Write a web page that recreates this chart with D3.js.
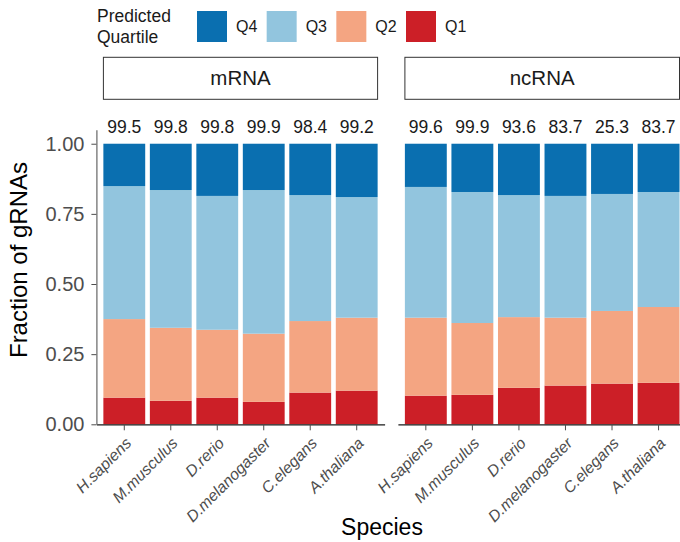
<!DOCTYPE html>
<html lang="en">
<head>
<meta charset="utf-8">
<title>Predicted quartile by species</title>
<script src="https://d3js.org/d3.v7.min.js"></script>
<style>
  body { margin: 0; background: #fff; }
  svg { font-family: "Liberation Sans", Arial, Helvetica, sans-serif; }
</style>
</head>
<body>
<script>
  // data
  const species = ["H.sapiens", "M.musculus", "D.rerio", "D.melanogaster", "C.elegans", "A.thaliana"];
  const facets = ["mRNA", "ncRNA"];
  const quartiles = ["Q1", "Q2", "Q3", "Q4"];
  const quartileColors = ["#cc1f27", "#f4a582", "#92c5de", "#0a6fb0"];

  const mrnaQ1 = [0.095, 0.084, 0.095, 0.080, 0.113, 0.120];
  const mrnaQ2 = [0.280, 0.260, 0.242, 0.243, 0.255, 0.260];
  const mrnaQ3 = [0.474, 0.491, 0.477, 0.512, 0.449, 0.430];
  const mrnaQ4 = [0.151, 0.165, 0.186, 0.165, 0.183, 0.190];
  const mrnaCoverage = [99.5, 99.8, 99.8, 99.9, 98.4, 99.2];

  const ncrnaQ1 = [0.102, 0.105, 0.130, 0.138, 0.145, 0.148];
  const ncrnaQ2 = [0.278, 0.256, 0.252, 0.242, 0.259, 0.270];
  const ncrnaQ3 = [0.466, 0.467, 0.435, 0.434, 0.417, 0.410];
  const ncrnaQ4 = [0.154, 0.172, 0.183, 0.186, 0.179, 0.172];
  const ncrnaCoverage = [99.6, 99.9, 93.6, 83.7, 25.3, 83.7];

  const yTicks = [0, 0.25, 0.5, 0.75, 1];

  const facetData = {
    mRNA: { q: [mrnaQ1, mrnaQ2, mrnaQ3, mrnaQ4], cov: mrnaCoverage },
    ncRNA: { q: [ncrnaQ1, ncrnaQ2, ncrnaQ3, ncrnaQ4], cov: ncrnaCoverage }
  };

  const w = 680;
  const h = 542;
  const panelTop = 129.7;
  const panelBottom = 424.3;
  const panelX = { mRNA: [96.4, 384.6], ncRNA: [397.9, 686.5] };

  const svg = d3.select("body")
    .append("svg")
    .attr("width", w)
    .attr("height", h);

  const yScale = d3.scaleLinear()
    .domain([0, 1.05])
    .range([panelBottom, panelTop]);

  const color = d3.scaleOrdinal()
    .domain(quartiles)
    .range(quartileColors);

  const stack = d3.stack().keys(quartiles);

  facets.forEach((f, fi) => {
    const rows = species.map((s, i) => {
      const row = { species: s, cov: facetData[f].cov[i] };
      quartiles.forEach((q, qi) => { row[q] = facetData[f].q[qi][i]; });
      return row;
    });
    const series = stack(rows);

    const xScale = d3.scaleBand()
      .domain(species)
      .range(panelX[f])
      .paddingInner(0.1)
      .paddingOuter(0.15);

    const g = svg.append("g").attr("class", "panel");

    g.selectAll("g.layer")
      .data(series)
      .enter()
      .append("g")
      .attr("class", "layer")
      .attr("fill", d => color(d.key))
      .selectAll("rect")
      .data(d => d)
      .enter()
      .append("rect")
      .attr("x", d => xScale(d.data.species))
      .attr("y", d => yScale(d[1]))
      .attr("width", xScale.bandwidth())
      .attr("height", d => yScale(d[0]) - yScale(d[1]));

    // coverage labels above bars
    g.selectAll("text.cov")
      .data(rows)
      .enter()
      .append("text")
      .attr("class", "cov")
      .attr("x", d => xScale(d.species) + xScale.bandwidth() / 2)
      .attr("y", yScale(1.039))
      .attr("text-anchor", "middle")
      .style("font-size", "17.5px")
      .style("fill", "#1a1a1a")
      .text(d => d.cov.toFixed(1));

    // x axis
    const xAxis = svg.append("g")
      .attr("transform", "translate(0," + panelBottom + ")")
      .call(d3.axisBottom(xScale).tickSize(6).tickSizeOuter(0));
    xAxis.select(".domain").attr("stroke", "#1a1a1a").attr("stroke-width", 1.2);
    xAxis.selectAll(".tick line").attr("stroke", "#4d4d4d");
    xAxis.selectAll(".tick text")
      .attr("x", 0)
      .attr("y", 0)
      .attr("dy", "0.71em")
      .attr("text-anchor", "end")
      .attr("transform", "translate(0,12) rotate(-45)")
      .style("font-size", "15.8px")
      .style("font-style", "italic")
      .style("font-family", "'Liberation Sans', Arial, sans-serif")
      .attr("fill", "#4d4d4d");

    // strip
    const [x0, x1] = panelX[f];
    svg.append("rect")
      .attr("x", x0 + 7)
      .attr("y", 57.3)
      .attr("width", x1 - x0 - 14)
      .attr("height", 42)
      .attr("fill", "#fff")
      .attr("stroke", "#333")
      .attr("stroke-width", 1);
    svg.append("text")
      .attr("x", (x0 + x1) / 2)
      .attr("y", 78.3)
      .attr("dy", "0.35em")
      .attr("text-anchor", "middle")
      .style("font-size", "20.5px")
      .style("fill", "#1a1a1a")
      .text(f);

    // y axis only on the first panel
    if (fi === 0) {
      const yAxis = svg.append("g")
        .attr("transform", "translate(" + x0 + ",0)")
        .call(d3.axisLeft(yScale)
          .tickValues(yTicks)
          .tickFormat(d3.format(".2f"))
          .tickSize(5)
          .tickSizeOuter(0)
          .tickPadding(7));
      yAxis.select(".domain").attr("stroke", "#666").attr("stroke-width", 1.2);
      yAxis.selectAll(".tick line").attr("stroke", "#4d4d4d");
      yAxis.selectAll(".tick text")
        .style("font-size", "20px")
        .style("font-family", "'Liberation Sans', Arial, sans-serif")
        .attr("fill", "#4d4d4d");
    }
  });

  // axis titles
  svg.append("text")
    .attr("x", 382)
    .attr("y", 535)
    .attr("text-anchor", "middle")
    .style("font-size", "23px")
    .text("Species");

  svg.append("text")
    .attr("transform", "translate(27,260) rotate(-90)")
    .attr("text-anchor", "middle")
    .style("font-size", "24px")
    .text("Fraction of gRNAs");

  // legend
  const legend = svg.append("g");
  legend.append("text")
    .attr("x", 97)
    .attr("y", 22)
    .style("font-size", "17.5px")
    .style("fill", "#1a1a1a")
    .text("Predicted");
  legend.append("text")
    .attr("x", 97)
    .attr("y", 42.5)
    .style("font-size", "17.5px")
    .style("fill", "#1a1a1a")
    .text("Quartile");

  const legendOrder = quartiles.slice().reverse();
  const legendX = d3.scalePoint()
    .domain(legendOrder)
    .range([197, 406]);

  const item = legend.selectAll("g.item")
    .data(legendOrder)
    .enter()
    .append("g")
    .attr("class", "item")
    .attr("transform", d => "translate(" + legendX(d) + ",11)");
  item.append("rect")
    .attr("width", 30)
    .attr("height", 31)
    .attr("fill", d => color(d));
  item.append("text")
    .attr("x", 39)
    .attr("y", 15.5)
    .attr("dy", "0.35em")
    .style("font-size", "16px")
    .style("fill", "#1a1a1a")
    .text(d => d);
</script>
</body>
</html>
